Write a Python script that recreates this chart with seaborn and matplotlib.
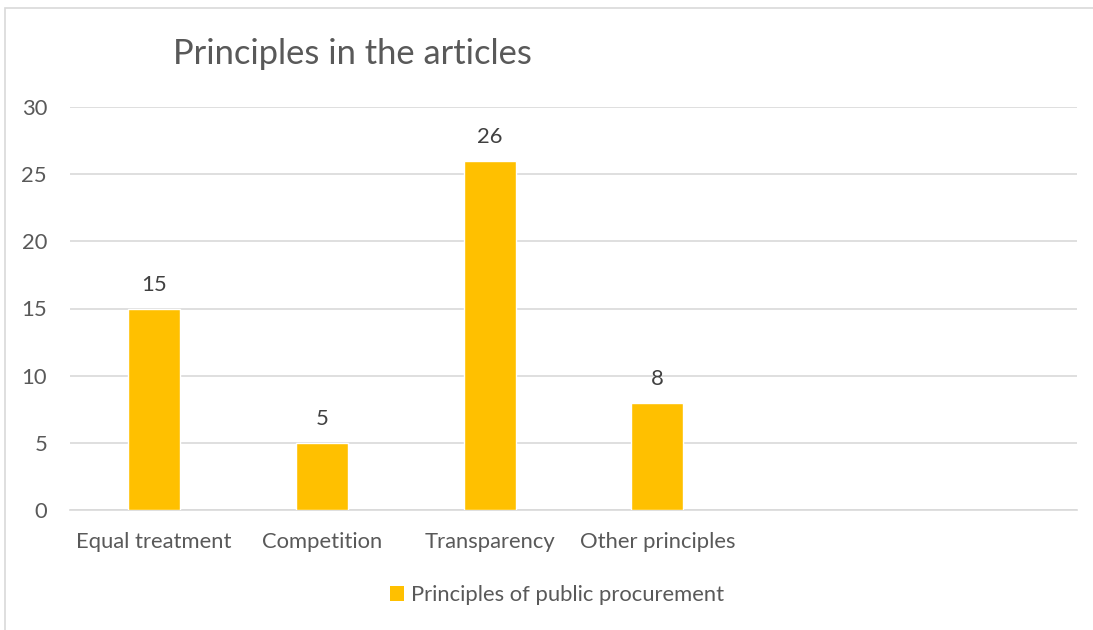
import matplotlib
matplotlib.use("Agg")
import matplotlib.pyplot as plt
import seaborn as sns
import pandas as pd
from matplotlib.patches import Rectangle, Patch

categories = ["Equal treatment", "Competition", "Transparency", "Other principles"]
values = [15, 5, 26, 8]
series_name = "Principles of public procurement"
title = "Principles in the articles"
yticks = [0, 5, 10, 15, 20, 25, 30]

sns.set_theme(style="white")
plt.rcParams['font.family'] = ['Lato', 'DejaVu Sans']

W, H = 1093, 630
fs = 15.8
fig = plt.figure(figsize=(W / 100, H / 100), dpi=100)
fig.patch.set_facecolor("white")
fig.patches.append(Rectangle((5 / W, -0.1), 1.2, 1 - 8 / H + 0.1, transform=fig.transFigure,
                             fill=False, edgecolor="#D9D9D9", linewidth=1.2))

ax = fig.add_axes([70 / W, 1 - 510 / H, (1077 - 70) / W, (510 - 107) / H])
df = pd.DataFrame({"category": categories, "value": values})
sns.barplot(data=df, x="category", y="value", color="#FFC000", width=0.31,
            saturation=1, ax=ax, zorder=3)
ax.set_xlim(-0.5, 5.5)
ax.set_ylim(0, 30)
ax.set_yticks(yticks)
ax.yaxis.grid(True, color="#D9D9D9", linewidth=1.2, zorder=0)
ax.set_axisbelow(True)
for s in ["top", "right", "left"]:
    ax.spines[s].set_visible(False)
ax.spines["bottom"].set_color("#D9D9D9")
ax.spines["bottom"].set_linewidth(1.2)
ax.set_xlabel("")
ax.set_ylabel("")
ax.tick_params(axis="both", length=0, labelsize=fs, colors="#595959")
ax.tick_params(axis="x", pad=16)
ax.tick_params(axis="y", pad=16.5)

for c in ax.containers:
    ax.bar_label(c, labels=[str(v) for v in values], padding=10, fontsize=fs, color="#404040")

fig.text(173 / W, 1 - 54 / H, title, fontsize=24.8, color="#595959", va="center", ha="left")

handle = Patch(facecolor="#FFC000", edgecolor="none")
fig.legend([handle], [series_name], loc="center", bbox_to_anchor=(557 / W, 1 - 595 / H),
           frameon=False, fontsize=fs, labelcolor="#595959", handlelength=0.65,
           handleheight=0.65, handletextpad=0.3)

fig.savefig("out.png", dpi=100)
